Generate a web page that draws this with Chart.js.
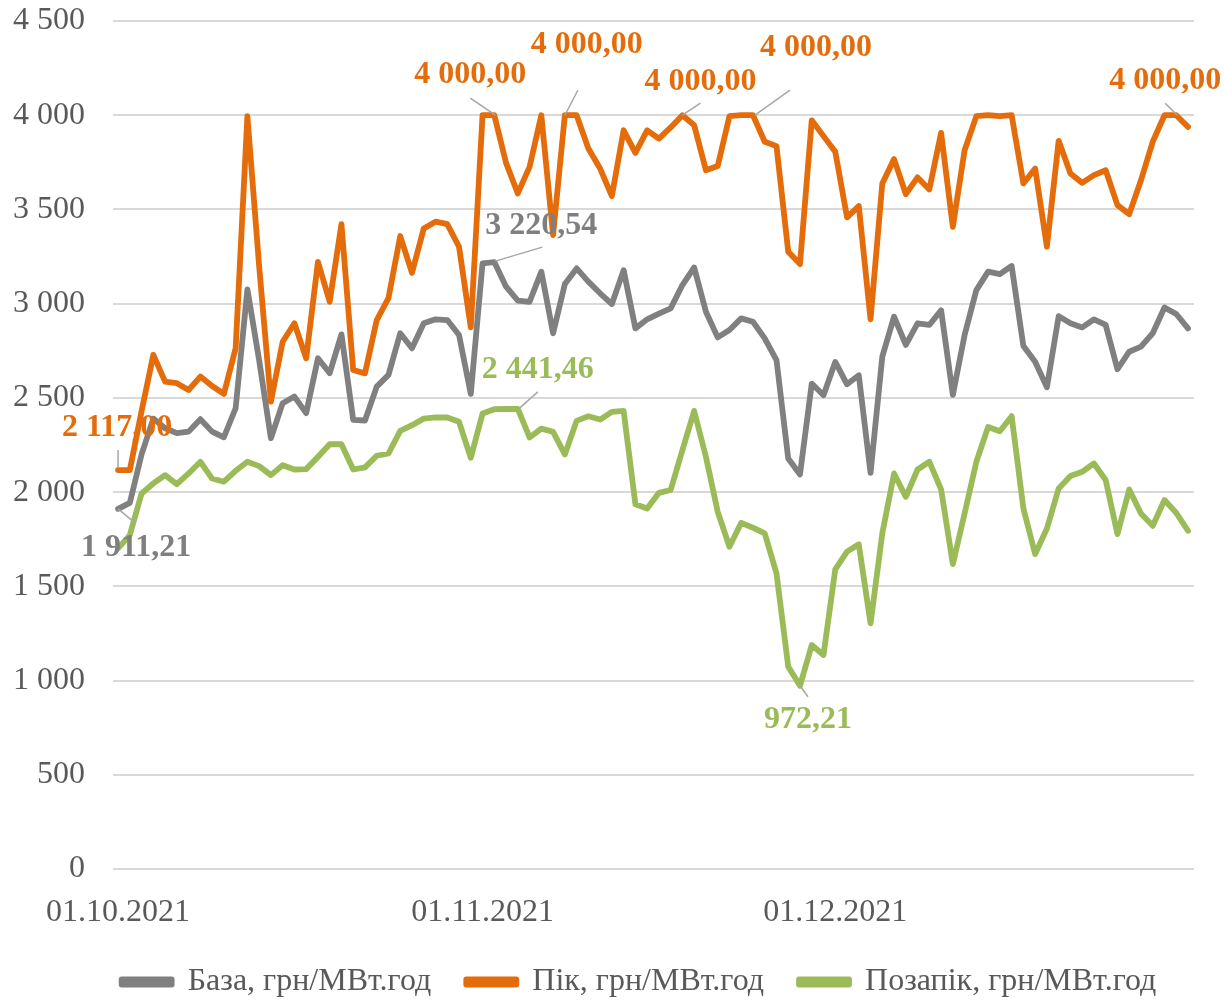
<!DOCTYPE html>
<html><head><meta charset="utf-8">
<script src="https://cdn.jsdelivr.net/npm/chart.js@4.4.0/dist/chart.umd.min.js"></script>
<style>html,body{margin:0;padding:0;background:#fff;overflow:hidden}
#wrap{position:relative;width:1224px;height:1008px}</style>
</head><body><div id="wrap"><canvas id="c"></canvas></div>
<script>
// ---- data ----
const xTickPositions = [0, 31, 61];
const xTickLabels = ['01.10.2021', '01.11.2021', '01.12.2021'];
const seriesNames = ['База, грн/МВт.год', 'Пік, грн/МВт.год', 'Позапік, грн/МВт.год'];
const bazaValues = [1911.21,1943,2200,2390,2339,2313,2321,2387,2321,2291,2445,3076,2700,2286,2472,2507,2419,2710,2631,2837,
  2383,2380,2560,2622,2843,2763,2896,2917,2913,2834,2521,3214,3220.54,3090,3016,3010,3170,2843,3104,3187,
  3117,3055,2998,3178,2869,2917,2947,2975,3099,3192,2957,2821,2860,2922,2904,2816,2701,2178,2094,2576,
  2514,2691,2572,2620,2102,2719,2931,2781,2896,2887,2965,2516,2834,3072,3170,3157,3200,2775,2692,2556,
  2934,2896,2874,2917,2887,2652,2745,2772,2843,2980,2945,2869];
const pikValues = [2117,2117,2430,2728,2586,2578,2542,2613,2563,2521,2763,3995,3200,2480,2798,2896,2710,3222,3010,3422,
  2648,2630,2913,3030,3359,3164,3399,3435,3422,3302,2874,4000,4000,3747,3585,3726,4000,3364,4000,4000,
  3823,3717,3571,3920,3800,3920,3876,3935,4000,3947,3708,3730,3995,4000,4000,3859,3836,3276,3210,3973,
  3889,3806,3458,3518,2917,3638,3767,3581,3670,3606,3906,3408,3814,3995,4000,3995,4000,3638,3717,3302,
  3864,3691,3641,3682,3708,3523,3475,3655,3859,4000,4000,3938];
const pozapikValues = [1701,1772,1993,2046,2090,2042,2099,2161,2072,2055,2113,2161,2138,2090,2143,2120,2122,2187,2254,2254,
  2120,2131,2193,2205,2325,2355,2390,2396,2396,2373,2182,2417,2440,2441,2441.46,2290,2337,2320,2200,2378,
  2403,2385,2426,2431,1936,1913,1996,2011,2223,2431,2187,1896,1710,1837,1811,1781,1569,1074,972.21,1189,
  1136,1590,1684,1723,1304,1781,2099,1975,2120,2161,2015,1618,1887,2161,2346,2323,2403,1913,1671,1807,
  2019,2085,2108,2152,2064,1777,2014,1887,1821,1958,1890,1795];

// ---- style ----
const lineColors = ['#808080', '#E46C0A', '#9BBB59'];
const labelColors = ['#7F7F7F', '#E46C0A', '#9BBB59'];
const FONT = '"Liberation Serif", "Times New Roman", serif';
const allSeries = [bazaValues, pikValues, pozapikValues];

// point labels: dataset, index, label offset (dx,dy), leader line offsets
const annotations = [
  {ds:1, i:0,  dx:-1, dy:-42, l:[0,-2,0,-20]},
  {ds:0, i:0,  dx:18, dy:39,  l:[0,0,17,14]},
  {ds:1, i:32, dx:-24, dy:-40, l:[1,0,-24,-17]},
  {ds:1, i:38, dx:22, dy:-70, l:[0,0,13,-25]},
  {ds:1, i:48, dx:18, dy:-33, l:[0,0,18,-12]},
  {ds:1, i:54, dx:63, dy:-67, l:[2,0,37,-25]},
  {ds:1, i:90, dx:-11, dy:-34, l:[1,0,-11,-12]},
  {ds:0, i:32, dx:47, dy:-36, l:[1,-1,48,-15]},
  {ds:2, i:34, dx:20, dy:-39, l:[2,-1,20,-17]},
  {ds:2, i:58, dx:8,  dy:34,  l:[0,0,8,11]}
];

function thousands(s){ return s.replace(/\B(?=(\d{3})+(?!\d))/g, ' '); }
function fmtValue(v){ const p = v.toFixed(2).split('.'); return thousands(p[0]) + ',' + p[1]; }

const pointLabelPlugin = {
  id: 'pointLabels',
  afterLayout(chart){
    // nudge the legend row to the reference's horizontal position
    if (chart.legend) { chart.legend.left += 42; chart.legend.right += 42; }
  },
  afterDatasetsDraw(chart){
    const ctx = chart.ctx;
    annotations.forEach(a => {
      const el = chart.getDatasetMeta(a.ds).data[a.i];
      const px = el.x, py = el.y;
      ctx.save();
      ctx.strokeStyle = '#A6A6A6'; ctx.lineWidth = 1.5;
      ctx.beginPath();
      ctx.moveTo(px + a.l[0], py + a.l[1]);
      ctx.lineTo(px + a.l[2], py + a.l[3]);
      ctx.stroke();
      ctx.font = 'bold 32px ' + FONT;
      ctx.fillStyle = labelColors[a.ds];
      ctx.textAlign = 'center'; ctx.textBaseline = 'middle';
      ctx.fillText(fmtValue(allSeries[a.ds][a.i]), px + a.dx, py + a.dy);
      ctx.restore();
    });
  }
};

const datasets = allSeries.map((vals, k) => ({
  label: seriesNames[k],
  data: vals.map((v, i) => ({x: i, y: v})),
  borderColor: lineColors[k],
  backgroundColor: lineColors[k],
  borderWidth: 5.8,
  borderJoinStyle: 'round',
  borderCapStyle: 'round',
  pointRadius: 0,
  tension: 0,
  order: 3 - k
}));

new Chart(document.getElementById('c'), {
  type: 'line',
  data: { datasets },
  options: {
    responsive: true,
    maintainAspectRatio: false,
    animation: false,
    layout: { padding: { top: 21, right: 30, left: 0, bottom: 0 } },
    plugins: {
      tooltip: { enabled: false },
      legend: {
        position: 'bottom',
        labels: {
          color: '#595959',
          font: { family: FONT, size: 32 },
          boxWidth: 50, boxHeight: 5,
          padding: 35,
          sort: (a, b) => a.datasetIndex - b.datasetIndex
        }
      }
    },
    scales: {
      x: {
        type: 'linear',
        min: -0.43, max: 91.51,
        afterBuildTicks: (axis) => { axis.ticks = xTickPositions.map(v => ({value: v})); },
        afterFit: (axis) => { axis.height = 62; axis.paddingLeft = 0; axis.paddingRight = 0; },
        ticks: {
          autoSkip: false, maxRotation: 0,
          color: '#595959', font: { family: FONT, size: 32 }, padding: 16,
          callback: (v) => { const k = xTickPositions.indexOf(v); return k >= 0 ? xTickLabels[k] : ''; }
        },
        grid: { display: false },
        border: { display: false }
      },
      y: {
        min: 0, max: 4500,
        afterFit: (axis) => { axis.width = 113; axis.paddingTop = 0; axis.paddingBottom = 0; },
        ticks: {
          stepSize: 500, color: '#595959', font: { family: FONT, size: 32 }, padding: 28,
          callback: (v) => thousands(String(v))
        },
        grid: { color: '#D9D9D9', lineWidth: 2, drawTicks: false },
        border: { display: false }
      }
    }
  },
  plugins: [pointLabelPlugin]
});
</script></body></html>
